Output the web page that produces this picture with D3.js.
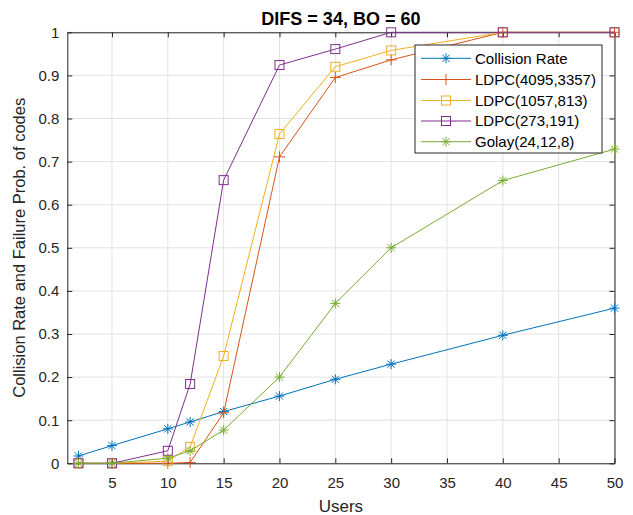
<!DOCTYPE html>
<html><head><meta charset="utf-8">
<script src="https://cdn.jsdelivr.net/npm/d3@7"></script>
<style>body{margin:0;background:#fff}svg{display:block}text{font-family:"Liberation Sans",Arial,Helvetica,sans-serif}</style>
</head><body><svg id="c" width="633" height="515"></svg>
<script>
const users = [2, 5, 10, 12, 15, 20, 25, 30, 40, 50];
const collisionRate = [0.017, 0.041, 0.080, 0.096, 0.120, 0.156, 0.195, 0.230, 0.297, 0.360];
const ldpc4095 = [0, 0, 0, 0.002, 0.117, 0.711, 0.895, 0.936, 1, 1];
const ldpc1057 = [0, 0, 0.005, 0.038, 0.249, 0.764, 0.920, 0.958, 1, 1];
const ldpc273 = [0, 0, 0.029, 0.184, 0.657, 0.924, 0.961, 1, 1, 1];
const golay = [0, 0, 0.012, 0.029, 0.077, 0.200, 0.371, 0.500, 0.656, 0.729];
const seriesNames = ["Collision Rate", "LDPC(4095,3357)", "LDPC(1057,813)", "LDPC(273,191)", "Golay(24,12,8)"];
const xTicks = [5, 10, 15, 20, 25, 30, 35, 40, 45, 50];
const yTicks = [0, 0.1, 0.2, 0.3, 0.4, 0.5, 0.6, 0.7, 0.8, 0.9, 1];
const titleText = "DIFS = 34, BO = 60";
const xLabel = "Users";
const yLabel = "Collision Rate and Failure Prob. of codes";

const colors = ["#0072BD", "#D95319", "#EDB120", "#7E2F8E", "#77AC30"];
const markers = ["star", "plus", "square", "square", "star"];
const seriesVals = [collisionRate, ldpc4095, ldpc1057, ldpc273, golay];

const L = 67.3, R = 614.5, T = 32.3, B = 463.3;
const svg = d3.select("#c");
const x = d3.scaleLinear().domain([1, 50]).range([L, R]);
const y = d3.scaleLinear().domain([0, 1]).range([B, T]);

// grid
const g = svg.append("g");
g.selectAll(".gx").data(xTicks).enter().append("line")
  .attr("x1", d => x(d)).attr("x2", d => x(d)).attr("y1", T).attr("y2", B)
  .attr("stroke", "#e3e3e3").attr("stroke-width", 1);
g.selectAll(".gy").data(yTicks).enter().append("line")
  .attr("x1", L).attr("x2", R).attr("y1", d => y(d)).attr("y2", d => y(d))
  .attr("stroke", "#e3e3e3").attr("stroke-width", 1);

// axes
const axCol = "#262626";
const xAxB = d3.axisBottom(x).tickValues(xTicks).tickSizeInner(-5).tickSizeOuter(0).tickPadding(14).tickFormat(d3.format("d"));
const xAxT = d3.axisTop(x).tickValues(xTicks).tickSizeInner(-5).tickSizeOuter(0).tickFormat("");
const yAxL = d3.axisLeft(y).tickValues(yTicks).tickSizeInner(-5).tickSizeOuter(0).tickPadding(8).tickFormat(d => d3.format("~g")(d));
const yAxR = d3.axisRight(y).tickValues(yTicks).tickSizeInner(-5).tickSizeOuter(0).tickFormat("");
function styleAx(sel){
  sel.select(".domain").attr("stroke", axCol).attr("stroke-width", 1);
  sel.selectAll(".tick line").attr("stroke", axCol);
  sel.selectAll(".tick text").attr("fill", axCol).style("font-size", "15px").style("font-family", '"Liberation Sans",Arial,sans-serif');
}
svg.append("g").attr("transform", `translate(0,${B})`).call(xAxB).call(styleAx);
svg.append("g").attr("transform", `translate(0,${T})`).call(xAxT).call(styleAx);
svg.append("g").attr("transform", `translate(${L},0)`).call(yAxL).call(styleAx);
svg.append("g").attr("transform", `translate(${R},0)`).call(yAxR).call(styleAx);

// markers
function drawMarker(sel, type, color, cx, cy){
  if (type === "square") {
    const s = 4.5;
    sel.append("rect").attr("x", cx - s).attr("y", cy - s).attr("width", 2*s).attr("height", 2*s)
      .attr("fill", "none").attr("stroke", color).attr("stroke-width", 1);
  } else if (type === "plus") {
    const s = 5.5;
    const p = d3.path(); p.moveTo(cx - s, cy); p.lineTo(cx + s, cy); p.moveTo(cx, cy - s); p.lineTo(cx, cy + s);
    sel.append("path").attr("d", p.toString()).attr("stroke", color).attr("stroke-width", 1).attr("fill", "none");
  } else {
    const p = d3.path(); const r = 5, q = r * 0.72;
    p.moveTo(cx - r, cy); p.lineTo(cx + r, cy); p.moveTo(cx, cy - r); p.lineTo(cx, cy + r);
    p.moveTo(cx - q, cy - q); p.lineTo(cx + q, cy + q); p.moveTo(cx - q, cy + q); p.lineTo(cx + q, cy - q);
    sel.append("path").attr("d", p.toString()).attr("stroke", color).attr("stroke-width", 1).attr("fill", "none");
  }
}

const line = d3.line().x(d => x(d[0])).y(d => y(d[1]));
seriesVals.forEach((vals, i) => {
  const pts = users.map((u, j) => [u, vals[j]]);
  const sg = svg.append("g");
  sg.append("path").attr("d", line(pts)).attr("fill", "none").attr("stroke", colors[i]).attr("stroke-width", 1);
  pts.forEach(p => drawMarker(sg, markers[i], colors[i], x(p[0]), y(p[1])));
});

// legend
const lx = 415, ly = 45, lw = 187, lh = 108;
const lg = svg.append("g");
lg.append("rect").attr("x", lx).attr("y", ly).attr("width", lw).attr("height", lh)
  .attr("fill", "#fff").attr("stroke", axCol).attr("stroke-width", 1);
const rowY = [58.3, 79.5, 100.5, 121, 141.7];
seriesNames.forEach((n, i) => {
  lg.append("line").attr("x1", 421).attr("x2", 471).attr("y1", rowY[i]).attr("y2", rowY[i])
    .attr("stroke", colors[i]).attr("stroke-width", 1);
  drawMarker(lg, markers[i], colors[i], 446, rowY[i]);
  lg.append("text").attr("x", 475).attr("y", rowY[i]).attr("dy", "0.35em")
    .style("font-size", "15px").attr("fill", "#000").text(n);
});

// title and labels
svg.append("text").attr("x", (L + R) / 2).attr("y", 25).attr("text-anchor", "middle")
  .style("font-size", "18px").style("font-weight", "bold").attr("fill", "#000").text(titleText);
svg.append("text").attr("x", (L + R) / 2).attr("y", 511.5).attr("text-anchor", "middle")
  .style("font-size", "17px").attr("fill", axCol).text(xLabel);
svg.append("text").attr("transform", `translate(25,${(T + B) / 2}) rotate(-90)`).attr("text-anchor", "middle")
  .style("font-size", "16.5px").attr("fill", axCol).text(yLabel);
</script></body></html>
